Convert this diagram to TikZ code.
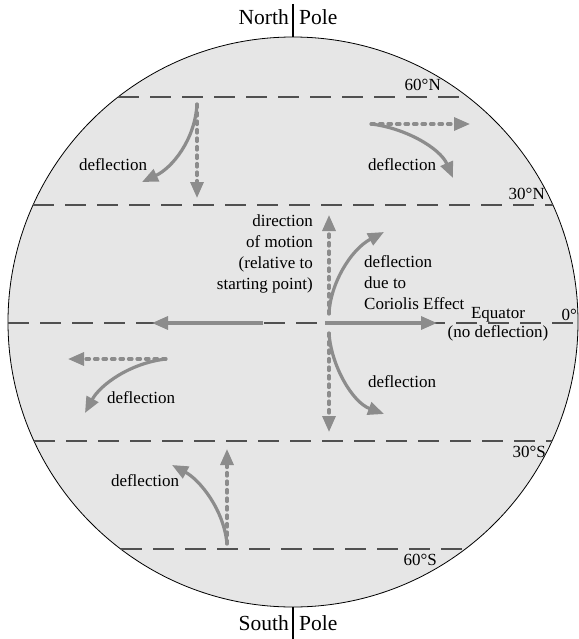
\documentclass[tikz,border=0pt]{standalone}
\usepackage{fontspec}
\setmainfont{Liberation Serif}
\usetikzlibrary{arrows.meta}
\definecolor{GlobeGray}{HTML}{E6E6E6}
\definecolor{ArrowGray}{HTML}{8C8C8C}
\definecolor{LineGray}{HTML}{505050}

\begin{document}
\begin{tikzpicture}[x=1pt,y=-1pt,
    latline/.style={LineGray,line width=1.5pt,dash pattern=on 21pt off 11pt},
    solidarrow/.style={ArrowGray,line width=3.2pt,-{Triangle[length=16pt,width=13pt]}},
    dotarrow/.style={solidarrow,line cap=round,dash pattern=on 3.5pt off 5pt},
    lbl/.style={font=\fontsize{17}{21}\selectfont,inner sep=0pt},
    polelbl/.style={font=\fontsize{21.5}{24}\selectfont,inner sep=0pt}]
    \useasboundingbox (0,0) rectangle (578,639);
    % Globe
    \node[circle,draw=black,line width=0.8pt,fill=GlobeGray,minimum size=570pt,inner sep=0pt] (globe) at (293,322) {};
    % Latitude lines
    \foreach \y/\xl/\xr in {97/118/468,205/33/553,323/8/578,441/34/552,549/121/465}
      \draw[latline] (\xl,\y) -- (\xr,\y);
    % Latitude labels
    \node[lbl,anchor=base east] (lat60n) at (441,91) {60°N};
    \node[lbl,anchor=base east] (lat30n) at (545,199) {30°N};
    \node[lbl,anchor=base east] (lat0) at (577,320) {0°};
    \node[lbl,anchor=base east] (lat30s) at (546,457) {30°S};
    \node[lbl,anchor=base east] (lat60s) at (437,565) {60°S};
    \node[lbl,anchor=base] (equator) at (498,318) {Equator};
    \node[lbl,anchor=base] (nodefl) at (498,337) {(no deflection)};
    % Poles
    \coordinate (ntop) at (293,4);
    \coordinate (sbot) at (293,639);
    \draw[line width=1.5pt] (ntop) -- (globe.north);
    \draw[line width=1.5pt] (globe.south) -- (sbot);
    \node[polelbl,anchor=base east] (north) at (289,25) {North};
    \node[polelbl,anchor=base west] (northpole) at (299,25) {Pole};
    \node[polelbl,anchor=base east] (south) at (289,630) {South};
    \node[polelbl,anchor=base west] (southpole) at (299,630) {Pole};
    % 60N-30N, moving south
    \coordinate (nwstart) at (197,104);
    \coordinate (nwdown) at (197,198);
    \coordinate (nwend) at (142,182);
    \draw[dotarrow] (nwstart) -- (nwdown);
    \draw[solidarrow] (nwstart) .. controls (195,140) and (172,168) .. (nwend);
    \node[lbl] (nwdefl) at (113,165) {deflection};
    % 60N-30N, moving east
    \coordinate (nestart) at (371,124);
    \coordinate (neright) at (470,124);
    \coordinate (neend) at (453,178);
    \draw[dotarrow] (nestart) -- (neright);
    \draw[solidarrow] (nestart) .. controls (405,128) and (440,148) .. (neend);
    \node[lbl] (nedefl) at (402,165) {deflection};
    % Equator, moving north
    \coordinate (cnstart) at (329,314);
    \coordinate (cnup) at (329,215);
    \coordinate (cnend) at (384,232);
    \draw[dotarrow] (cnstart) -- (cnup);
    \draw[solidarrow] (cnstart) .. controls (330,285) and (350,250) .. (cnend);
    \node[lbl,align=right,anchor=east] (motion) at (313,254) {direction\\of motion\\(relative to\\starting point)};
    \node[lbl,align=left,anchor=west] (coriolis) at (364,283) {deflection\\due to\\Coriolis Effect};
    % Equator, moving south
    \coordinate (csstart) at (329,333);
    \coordinate (csdown) at (329,432);
    \coordinate (csend) at (384,414);
    \draw[dotarrow] (csstart) -- (csdown);
    \draw[solidarrow] (csstart) .. controls (331,365) and (352,402) .. (csend);
    \node[lbl] (csdefl) at (402,382) {deflection};
    % Equator, moving east and west
    \coordinate (wtail) at (263,323);
    \coordinate (whead) at (152,323);
    \coordinate (etail) at (325,323);
    \coordinate (ehead) at (437,323);
    \draw[solidarrow] (wtail) -- (whead);
    \draw[solidarrow] (etail) -- (ehead);
    % 0-30S, moving west
    \coordinate (swstart) at (166,359);
    \coordinate (swleft) at (68,359);
    \coordinate (swend) at (85,413);
    \draw[dotarrow] (swstart) -- (swleft);
    \draw[solidarrow] (swstart) .. controls (130,363) and (100,385) .. (swend);
    \node[lbl] (swdefl) at (141,398) {deflection};
    % 30S-60S, moving north
    \coordinate (ssstart) at (227,544);
    \coordinate (ssup) at (227,449);
    \coordinate (ssend) at (172,465);
    \draw[dotarrow] (ssstart) -- (ssup);
    \draw[solidarrow] (ssstart) .. controls (224,510) and (200,480) .. (ssend);
    \node[lbl] (ssdefl) at (145,481) {deflection};
  \end{tikzpicture}
\end{document}
